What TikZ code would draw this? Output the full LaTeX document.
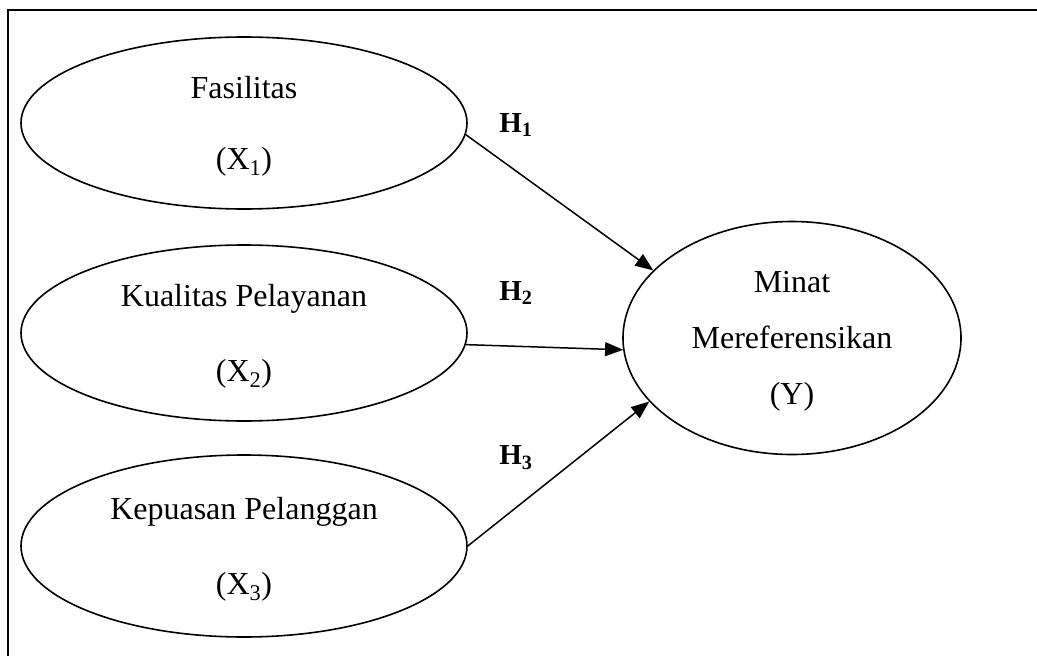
\documentclass[tikz,border=0pt]{standalone}
\usepackage{fontspec}
\setmainfont{Liberation Serif}
\usetikzlibrary{shapes.geometric,arrows.meta}

\begin{document}
\begin{tikzpicture}[x=1pt, y=-1pt,
  latent/.style={draw, ellipse, line width=1.6pt, inner sep=0pt, align=center,
    text depth=0pt, minimum width=446pt, minimum height=172pt,
    font=\fontsize{32}{75}\selectfont},
  hyp/.style={font=\fontsize{29}{30}\selectfont\bfseries},
  path/.style={line width=1.5pt, -{Triangle[length=18pt, width=14pt]}}]
\useasboundingbox (0, 0) rectangle (1037, 656);
% frame
\draw [line width=2pt] (1037, 10) -- (8, 10) -- (8, 656);
% variables
\node [latent, font=\fontsize{32}{71}\selectfont] (x1) at (244, 123) {Fasilitas\\(X\textsubscript{1})};
\node [latent, minimum height=176pt] (x2) at (244, 333) {Kualitas Pelayanan\\(X\textsubscript{2})};
\node [latent, minimum height=182pt] (x3) at (244, 546) {Kepuasan Pelanggan\\(X\textsubscript{3})};
\node [latent, minimum width=338pt, minimum height=233pt,
  font=\fontsize{32}{56}\selectfont] (y) at (792, 338) {Minat\\Mereferensikan\\(Y)};
% hypotheses
\node [hyp] (h1) at (516, 125) {H\textsubscript{1}};
\node [hyp] (h2) at (516, 293) {H\textsubscript{2}};
\node [hyp] (h3) at (516, 458) {H\textsubscript{3}};
\draw [path] (x1.-3) -- (y.154);
\draw [path] (x2.-3) -- (y.184);
\draw [path] (x3.east) -- (y.204);
\end{tikzpicture}
\end{document}
